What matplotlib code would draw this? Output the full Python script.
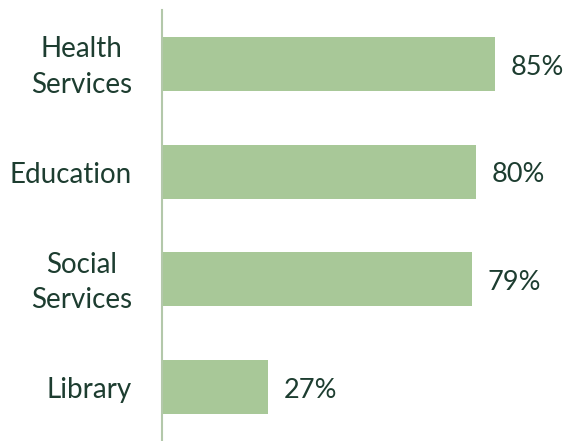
import matplotlib.pyplot as plt

# service categories and share of respondents
categories = ["Health\nServices", "Education", "Social\nServices", "Library"]
values = [85, 80, 79, 27]

bar_color = "#a8c898"
text_color = "#1d3d30"
axis_color = "#b3c8aa"

plt.rcParams["font.family"] = ["Lato", "DejaVu Sans"]

fig = plt.figure(figsize=(5.65, 4.41), dpi=100)
ax = fig.add_axes([162 / 565, 0, 403 / 565, 431 / 441])

pos = list(range(len(categories)))
ax.barh(pos, values, height=0.5, color=bar_color)
ax.set_ylim(len(categories) - 0.5, -0.5)
ax.set_xlim(0, 403 / 3.92)

for y, v in zip(pos, values):
    ax.text(v + 4.0, y + 0.03, f"{v}%", va="center", ha="left", fontsize=19.5, color=text_color)

# category names, right edge 30px left of the axis line
for y, name in zip(pos, categories):
    ax.text(-30 / 403, y + 0.03, name, transform=ax.get_yaxis_transform(),
            ha="right", va="center", multialignment="center",
            fontsize=20, color=text_color, linespacing=1.45)

ax.set_yticks([])
ax.set_xticks([])
for side in ["top", "right", "bottom"]:
    ax.spines[side].set_visible(False)
ax.spines["left"].set_color(axis_color)
ax.spines["left"].set_linewidth(1.5)

fig.savefig("out.png", dpi=100)
